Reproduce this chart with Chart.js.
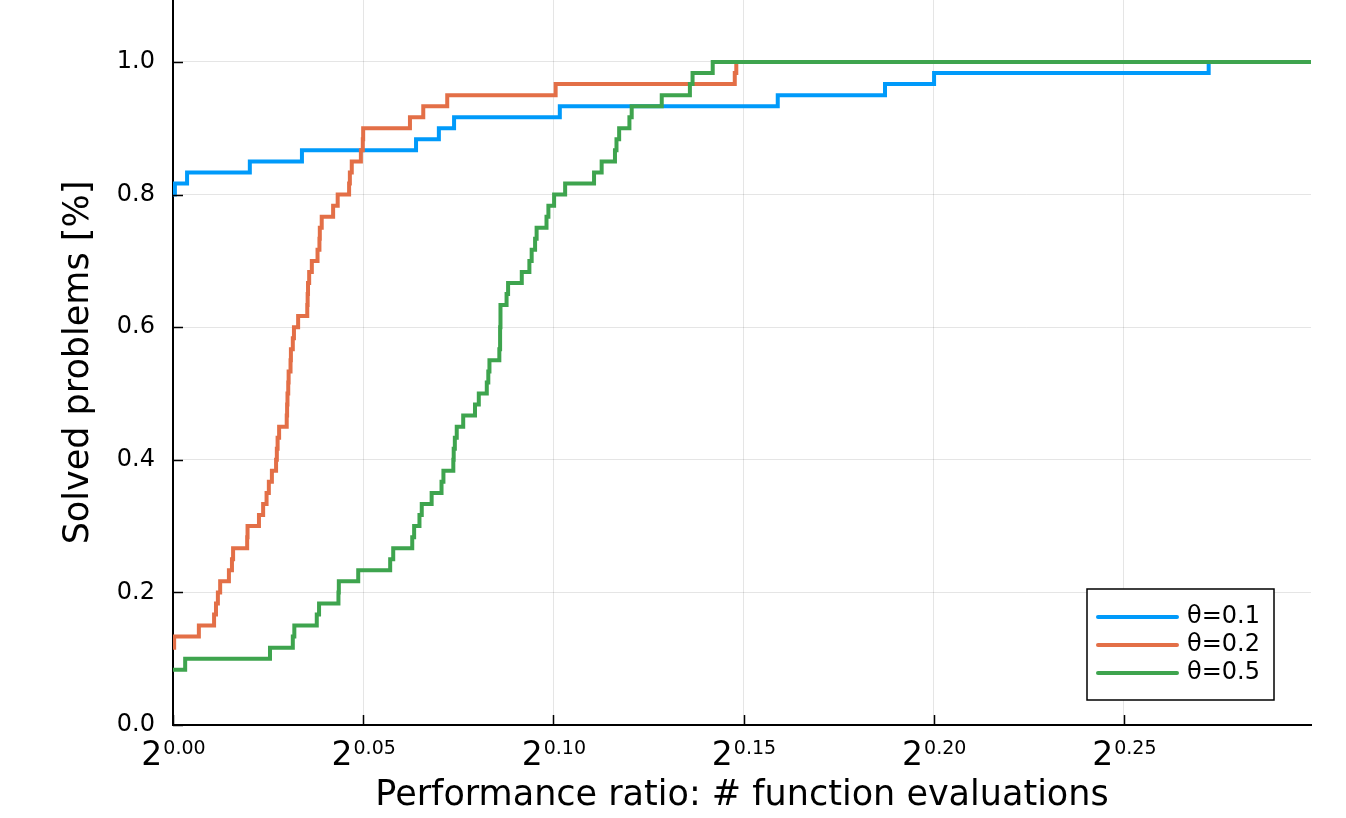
<!DOCTYPE html>
<html>
<head>
<meta charset="utf-8">
<script src="https://cdn.jsdelivr.net/npm/chart.js@4.4.1/dist/chart.umd.min.js"></script>
<style>
  html, body { margin: 0; padding: 0; background: #fff; }
  #wrap { width: 1346px; height: 818px; }
</style>
</head>
<body>
<div id="wrap"><canvas id="myChart" width="1346" height="818"></canvas></div>
<script>
// x values are log2 of the performance ratio, y values the solved fraction
var seriesLabels = ['θ=0.1', 'θ=0.2', 'θ=0.5'];
var seriesColors = ['#009AFA', '#E36F47', '#3EA44E'];

var theta1X = [0, 0.0005, 0.0037, 0.0202, 0.0339, 0.0639, 0.0699, 0.0739, 0.1017, 0.1590, 0.1872, 0.2001, 0.2723];
var theta1Y = [0.8000, 0.8167, 0.8333, 0.8500, 0.8667, 0.8833, 0.9000, 0.9167, 0.9333, 0.9500, 0.9667, 0.9833, 1.0000];

var theta2X = [0, 0.0003, 0.0068, 0.0108, 0.0113, 0.0118, 0.0124, 0.0147, 0.0155, 0.0158,
    0.0195, 0.0196, 0.0226, 0.0237, 0.0246, 0.0252, 0.0260, 0.0271, 0.0273, 0.0275,
    0.0279, 0.0299, 0.0300, 0.0301, 0.0303, 0.0304, 0.0309, 0.0310, 0.0315, 0.0318,
    0.0329, 0.0353, 0.0354, 0.0355, 0.0358, 0.0365, 0.0380, 0.0385, 0.0386, 0.0391,
    0.0421, 0.0433, 0.0463, 0.0465, 0.0470, 0.0494, 0.0499, 0.0500, 0.0623, 0.0658,
    0.0721, 0.1006, 0.1477, 0.1481];
var theta2Y = [0.1167, 0.1333, 0.1500, 0.1667, 0.1833, 0.2000, 0.2167, 0.2333, 0.2500, 0.2667,
    0.2833, 0.3000, 0.3167, 0.3333, 0.3500, 0.3667, 0.3833, 0.4000, 0.4167, 0.4333,
    0.4500, 0.4667, 0.4833, 0.5000, 0.5167, 0.5333, 0.5500, 0.5667, 0.5833, 0.6000,
    0.6167, 0.6333, 0.6500, 0.6667, 0.6833, 0.7000, 0.7167, 0.7333, 0.7500, 0.7667,
    0.7833, 0.8000, 0.8167, 0.8333, 0.8500, 0.8667, 0.8833, 0.9000, 0.9167, 0.9333,
    0.9500, 0.9667, 0.9833, 1.0000];

var theta5X = [0, 0.0032, 0.0255, 0.0315, 0.0319, 0.0378, 0.0384, 0.0435, 0.0436, 0.0487,
    0.0571, 0.0579, 0.0629, 0.0634, 0.0648, 0.0654, 0.0680, 0.0706, 0.0711, 0.0737,
    0.0738, 0.0741, 0.0746, 0.0763, 0.0794, 0.0804, 0.0825, 0.0829, 0.0832, 0.0858,
    0.0860, 0.0860, 0.0861, 0.0861, 0.0877, 0.0881, 0.0917, 0.0937, 0.0943, 0.0952,
    0.0956, 0.0982, 0.0987, 0.1002, 0.1031, 0.1107, 0.1127, 0.1162, 0.1166, 0.1173,
    0.1200, 0.1206, 0.1285, 0.1359, 0.1366, 0.1419];
var theta5Y = [0.0833, 0.1000, 0.1167, 0.1333, 0.1500, 0.1667, 0.1833, 0.2000, 0.2167, 0.2333,
    0.2500, 0.2667, 0.2833, 0.3000, 0.3167, 0.3333, 0.3500, 0.3667, 0.3833, 0.4000,
    0.4167, 0.4333, 0.4500, 0.4667, 0.4833, 0.5000, 0.5167, 0.5333, 0.5500, 0.5667,
    0.5833, 0.6000, 0.6167, 0.6333, 0.6500, 0.6667, 0.6833, 0.7000, 0.7167, 0.7333,
    0.7500, 0.7667, 0.7833, 0.8000, 0.8167, 0.8333, 0.8500, 0.8667, 0.8833, 0.9000,
    0.9167, 0.9333, 0.9500, 0.9667, 0.9833, 1.0000];

var xTicks = [0, 0.05, 0.10, 0.15, 0.20, 0.25];
var yTicks = [0, 0.2, 0.4, 0.6, 0.8, 1.0];
var xMax = 0.2992;
var yMax = 1.0935;

var FONT = '"DejaVu Sans", sans-serif';

function toPoints(xs, ys) {
    var pts = xs.map(function (x, i) { return { x: x, y: ys[i] }; });
    pts.push({ x: xMax, y: ys[ys.length - 1] });
    return pts;
}

// tick marks drawn inward, like the original plot
var innerTicks = {
    id: 'innerTicks',
    afterDraw: function (chart) {
        var ctx = chart.ctx, a = chart.chartArea;
        var xs = chart.scales.x, ys = chart.scales.y;
        ctx.save();
        ctx.strokeStyle = '#000';
        ctx.lineWidth = 1.5;
        ctx.beginPath();
        xs.ticks.forEach(function (t) {
            var px = Math.round(xs.getPixelForValue(t.value)) + 0.5;
            ctx.moveTo(px, a.bottom);
            ctx.lineTo(px, a.bottom - 10);
        });
        ys.ticks.forEach(function (t) {
            var py = Math.round(ys.getPixelForValue(t.value)) + 0.5;
            ctx.moveTo(a.left, py);
            ctx.lineTo(a.left + 10, py);
        });
        ctx.stroke();

        // x tick labels as 2^exponent
        ctx.fillStyle = '#000';
        ctx.textAlign = 'left';
        ctx.textBaseline = 'alphabetic';
        xs.ticks.forEach(function (t) {
            var px = xs.getPixelForValue(t.value);
            var exp = t.value.toFixed(2);
            ctx.font = '33px ' + FONT;
            var w1 = ctx.measureText('2').width;
            ctx.font = '19px ' + FONT;
            var w2 = ctx.measureText(exp).width;
            var x0 = px - (w1 + w2) / 2;
            ctx.font = '33px ' + FONT;
            ctx.fillText('2', x0, a.bottom + 40);
            ctx.font = '19px ' + FONT;
            ctx.fillText(exp, x0 + w1 + 1, a.bottom + 29);
        });
        ctx.restore();
    }
};

var boxLegend = {
    id: 'boxLegend',
    afterDraw: function (chart) {
        var ctx = chart.ctx, a = chart.chartArea;
        var w = 187, h = 111;
        var left = a.right - 37 - w, top = a.bottom - 25 - h;
        ctx.save();
        ctx.fillStyle = '#fff';
        ctx.fillRect(left, top, w, h);
        ctx.strokeStyle = '#000';
        ctx.lineWidth = 1.5;
        ctx.strokeRect(left, top, w, h);
        ctx.font = '24px ' + FONT;
        ctx.textBaseline = 'middle';
        ctx.textAlign = 'left';
        chart.data.datasets.forEach(function (ds, i) {
            var y = top + 28 + i * 28;
            ctx.strokeStyle = ds.borderColor;
            ctx.lineWidth = 4;
            ctx.lineCap = 'round';
            ctx.beginPath();
            ctx.moveTo(left + 11, y);
            ctx.lineTo(left + 90, y);
            ctx.stroke();
            ctx.fillStyle = '#000';
            ctx.fillText(ds.label, left + 100, y);
        });
        ctx.restore();
    }
};

var ctx1 = document.getElementById('myChart').getContext('2d');

var myChart1 = new Chart(ctx1, {
    type: 'line',
    data: {
        datasets: [
            { label: seriesLabels[0], data: toPoints(theta1X, theta1Y), borderColor: seriesColors[0], order: 2 },
            { label: seriesLabels[1], data: toPoints(theta2X, theta2Y), borderColor: seriesColors[1], order: 1 },
            { label: seriesLabels[2], data: toPoints(theta5X, theta5Y), borderColor: seriesColors[2], order: 0 }
        ]
    },
    options: {
        responsive: false,
        animation: false,
        layout: { autoPadding: false, padding: { left: 0, right: 35, top: 0, bottom: 0 } },
        datasets: {
            line: {
                stepped: true,
                borderWidth: 4,
                pointRadius: 0,
                fill: false,
                borderJoinStyle: 'miter'
            }
        },
        plugins: {
            legend: { display: false },
            tooltip: { enabled: false }
        },
        scales: {
            x: {
                type: 'linear',
                min: 0,
                max: xMax,
                afterBuildTicks: function (s) { s.ticks = xTicks.map(function (v) { return { value: v }; }); },
                afterFit: function (s) { s.height = 93; s.paddingLeft = 0; s.paddingRight = 0; },
                ticks: { display: false },
                grid: { color: 'rgba(0,0,0,0.1)', lineWidth: 1, drawTicks: false },
                border: { display: true, color: '#000', width: 2 },
                title: {
                    display: true,
                    text: 'Performance ratio: # function evaluations',
                    color: '#000',
                    font: { family: FONT, size: 35 },
                    padding: { top: 0, bottom: 1 }
                }
            },
            y: {
                type: 'linear',
                min: 0,
                max: yMax,
                afterBuildTicks: function (s) { s.ticks = yTicks.map(function (v) { return { value: v }; }); },
                afterFit: function (s) { s.width = 173; s.paddingTop = 0; s.paddingBottom = 0; },
                ticks: {
                    color: '#000',
                    padding: 18,
                    font: { family: FONT, size: 24 },
                    callback: function (v) { return Number(v).toFixed(1); }
                },
                grid: { color: 'rgba(0,0,0,0.1)', lineWidth: 1, drawTicks: false },
                border: { display: true, color: '#000', width: 2 },
                title: {
                    display: true,
                    text: 'Solved problems [%]',
                    color: '#000',
                    font: { family: FONT, size: 35 },
                    padding: { top: 58, bottom: 0 }
                }
            }
        }
    },
    plugins: [innerTicks, boxLegend]
});
</script>
</body>
</html>
